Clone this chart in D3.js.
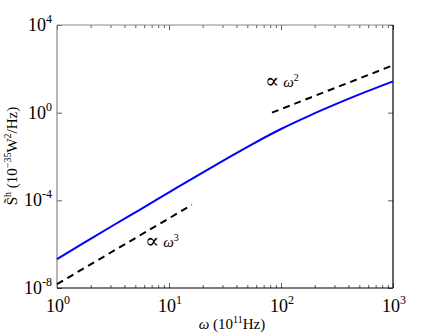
<!DOCTYPE html>
<html lang="en">
<head>
  <meta charset="UTF-8">
  <script src="https://d3js.org/d3.v7.min.js"></script>
  <style>
    body { margin: 0; background: white; }
    svg text { font-family: "Times New Roman", Times, "Liberation Serif", "DejaVu Serif", serif; }
  </style>
</head>
<body>
<svg id="chart" width="436" height="336"></svg>
<script>
// data
const omega = [1, 1.78, 3.16, 5.62, 10, 17.8, 31.6, 56.2, 100, 178, 316, 562, 1000];
const spec  = [2.1e-7, 1.23e-6, 7.1e-6, 4.0e-5, 2.3e-4, 1.32e-3, 7.2e-3, 0.038, 0.18, 0.72, 2.57, 8.6, 26.9];
const fit3 = [[1, 1.5e-8], [16, 6.2e-5]];   // ∝ ω^3
const fit2 = [[83, 1.0], [1000, 145]];      // ∝ ω^2
const xTicks = [1, 10, 100, 1000];
const yTicks = [1e-8, 1e-4, 1, 1e4];
const xExp = [0, 1, 2, 3];
const yExp = [-8, -4, 0, 4];

const mLeft = 57, mRight = 393, mTop = 25, mBottom = 288;
const svg = d3.select("#chart");

const x = d3.scaleLog().domain([1, 1000]).range([mLeft, mRight]);
const y = d3.scaleLog().domain([1e-8, 1e4]).range([mBottom, mTop]);

// minor ticks on x (2..9 in each decade)
const minor = [];
for (let d = 1; d < 1000; d *= 10) for (let k = 2; k < 10; k++) minor.push(d * k);

function drawTicks(g, axisFn, scale, vals, size) {
  g.call(axisFn(scale).tickValues(vals).tickSize(size).tickFormat(""))
   .call(s => s.select(".domain").remove())
   .selectAll("line").attr("stroke", "#333").attr("stroke-width", 0.8);
}
drawTicks(svg.append("g").attr("transform", `translate(0,${mBottom})`), d3.axisBottom, x, xTicks, -5);
drawTicks(svg.append("g").attr("transform", `translate(0,${mBottom})`), d3.axisBottom, x, minor, -3);
drawTicks(svg.append("g").attr("transform", `translate(0,${mTop})`), d3.axisTop, x, xTicks, -5);
drawTicks(svg.append("g").attr("transform", `translate(0,${mTop})`), d3.axisTop, x, minor, -3);
drawTicks(svg.append("g").attr("transform", `translate(${mLeft},0)`), d3.axisLeft, y, yTicks, -5);
drawTicks(svg.append("g").attr("transform", `translate(${mRight},0)`), d3.axisRight, y, yTicks, -5);

// frame: top/left grey, bottom/right black
svg.append("line").attr("x1", mLeft).attr("x2", mRight).attr("y1", mTop).attr("y2", mTop)
  .attr("stroke", "#888").attr("stroke-width", 1.2);
svg.append("line").attr("x1", mLeft).attr("x2", mLeft).attr("y1", mTop).attr("y2", mBottom)
  .attr("stroke", "#888").attr("stroke-width", 1.2);
svg.append("line").attr("x1", mLeft).attr("x2", mRight).attr("y1", mBottom).attr("y2", mBottom)
  .attr("stroke", "#000").attr("stroke-width", 1.2);
svg.append("line").attr("x1", mRight).attr("x2", mRight).attr("y1", mTop).attr("y2", mBottom)
  .attr("stroke", "#000").attr("stroke-width", 1.2);

// tick labels
function powLabel(g, xp, yp, e, anchor) {
  const t = g.append("text").attr("x", xp).attr("y", yp).attr("text-anchor", anchor)
    .attr("font-size", 18).attr("fill", "#000");
  t.append("tspan").text("10");
  t.append("tspan").attr("dy", -8).attr("font-size", 12).text(e);
}
xTicks.forEach((v, i) => powLabel(svg, x(v) + 1, 312, xExp[i], "middle"));
yTicks.forEach((v, i) => powLabel(svg, mLeft - 5, y(v) + 6, yExp[i], "end"));

// fits
const line = d3.line().x(d => x(d[0])).y(d => y(d[1]));
[fit3, fit2].forEach(f => svg.append("path").attr("d", line(f))
  .attr("fill", "none").attr("stroke", "#000").attr("stroke-width", 2)
  .attr("stroke-dasharray", "7,5"));

// main curve
const curve = d3.line().x((d, i) => x(omega[i])).y(d => y(d)).curve(d3.curveMonotoneX);
svg.append("path").attr("d", curve(spec))
  .attr("fill", "none").attr("stroke", "#0000ff").attr("stroke-width", 2);

// annotations
function propLabel(xp, yp, e) {
  const t = svg.append("text").attr("x", xp).attr("y", yp).attr("font-size", 15).attr("fill", "#000");
  t.append("tspan").attr("font-size", 21).attr("dy", 1).text("\u221D");
  t.append("tspan").attr("font-style", "italic").attr("dx", 4).attr("dy", -1).text("\u03C9");
  t.append("tspan").attr("dy", -6).attr("font-size", 10).text(e);
}
propLabel(145, 247, 3);
propLabel(265, 87, 2);

// axis titles
const xl = svg.append("text").attr("x", 232).attr("y", 329).attr("text-anchor", "middle")
  .attr("font-size", 15).attr("fill", "#000");
xl.append("tspan").attr("font-style", "italic").text("\u03C9");
xl.append("tspan").text(" (10");
xl.append("tspan").attr("dy", -6).attr("font-size", 10).text("11");
xl.append("tspan").attr("dy", 6).text("Hz)");

const yl = svg.append("text").attr("transform", "translate(17,156) rotate(-90)")
  .attr("text-anchor", "middle").attr("font-size", 15).attr("fill", "#000");
yl.append("tspan").text("S\u0303");
yl.append("tspan").attr("dy", -6).attr("font-size", 10).text("h");
yl.append("tspan").attr("dy", 6).text(" (10");
yl.append("tspan").attr("dy", -6).attr("font-size", 10).text("\u221235");
yl.append("tspan").attr("dy", 6).text("W");
yl.append("tspan").attr("dy", -6).attr("font-size", 10).text("2");
yl.append("tspan").attr("dy", 6).text("/Hz)");
</script>
</body>
</html>
